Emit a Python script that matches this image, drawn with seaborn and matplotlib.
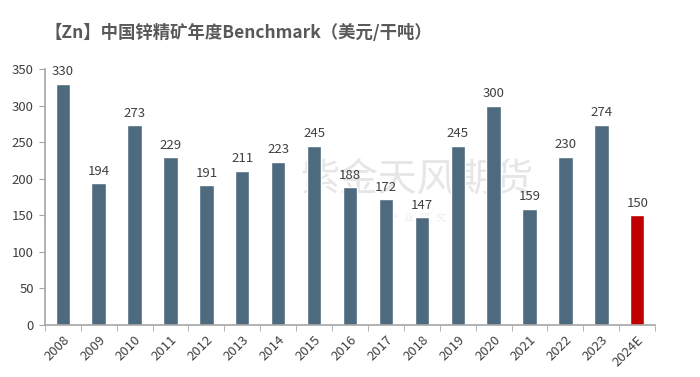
import pandas as pd
import seaborn as sns
from matplotlib import pyplot as plt

years = ['2008', '2009', '2010', '2011', '2012', '2013', '2014', '2015', '2016',
         '2017', '2018', '2019', '2020', '2021', '2022', '2023', '2024E']
benchmark = [330, 194, 273, 229, 191, 211, 223, 245, 188,
             172, 147, 245, 300, 159, 230, 274, 150]

BLUE = '#4e6a7f'
RED = '#c00000'
GRAY = '#595959'

data = pd.DataFrame({'year': years, 'value': benchmark})
colors = [BLUE] * (len(years) - 1) + [RED]

sns.set_style('white')
plt.rcParams['font.family'] = ['Noto Sans CJK SC', 'DejaVu Sans']

fig = plt.figure(figsize=(7, 3.77), dpi=100)
ax = fig.add_axes([0.064, 0.138, 0.872, 0.679])

# faint watermark, drawn behind the bars
ax.text(0.61, 0.57, '紫金天风期货', transform=ax.transAxes, fontsize=28,
        color='#e6e6e6', ha='center', va='center', zorder=0.5)
ax.text(0.61, 0.42, '产   业   研   究', transform=ax.transAxes, fontsize=7,
        color='#ececec', ha='center', va='center', zorder=0.5)

sns.barplot(data=data, x='year', y='value', hue='year', palette=colors,
            legend=False, width=0.4, saturation=1, ax=ax, zorder=2)

# value labels above bars
for c in ax.containers:
    ax.bar_label(c, fmt='%d', padding=4, fontsize=9.5, color='#404040')

ax.set_ylim(0, 350)
ax.set_yticks(range(0, 351, 50))
ax.set_xlim(-0.5, len(years) - 0.5)
ax.set_xlabel('')
ax.set_ylabel('')

# x ticks sit between categories, like Excel
ax.set_xticks(list(range(len(years))))
ax.set_xticklabels(years, rotation=45, ha='right', rotation_mode='anchor')
ax.set_xticks([i - 0.5 for i in range(len(years) + 1)], minor=True)
ax.tick_params(axis='x', which='major', length=0, pad=6, labelsize=9.5,
               labelcolor='#404040')
ax.tick_params(axis='x', which='minor', length=4, color='#a6a6a6',
               direction='out', bottom=True)
ax.tick_params(axis='y', length=4, color='#a6a6a6', direction='out',
               left=True, labelsize=9.5, labelcolor='#404040', pad=4)

for side in ['top', 'right']:
    ax.spines[side].set_visible(False)
for side in ['left', 'bottom']:
    ax.spines[side].set_color('#a6a6a6')
    ax.spines[side].set_linewidth(1.2)

fig.text(0.064, 0.912, '【Zn】中国锌精矿年度Benchmark（美元/干吨）',
         fontsize=12.5, fontweight='bold', color=GRAY, ha='left', va='center')

plt.savefig('out.png', dpi=100)
plt.close()
